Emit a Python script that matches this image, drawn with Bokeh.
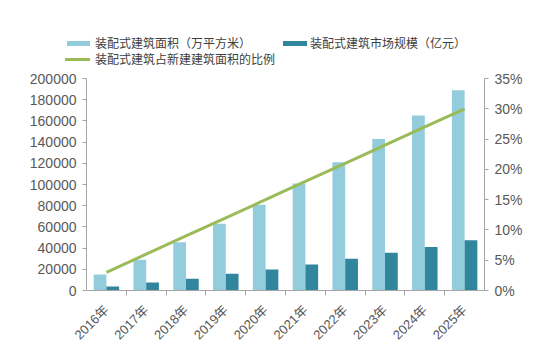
from math import pi
from bokeh.plotting import figure
from bokeh.layouts import column
from bokeh.models import (FactorRange, Range1d, LinearAxis, CategoricalAxis, Div,
                          ColumnDataSource, NumeralTickFormatter,
                          PrintfTickFormatter, FixedTicker)
from bokeh.transform import dodge
from bokeh.embed import file_html
from bokeh.resources import INLINE

years = ["2016年", "2017年", "2018年", "2019年", "2020年",
         "2021年", "2022年", "2023年", "2024年", "2025年"]
area = [15000, 29000, 45500, 63000, 81000, 101000, 121000, 143000, 165000, 189000]
market = [3800, 7500, 11000, 15800, 19800, 24500, 30000, 35500, 41000, 47500]
share = [3, 6, 9, 12, 15, 18, 21, 24, 27, 30]

name_area = "装配式建筑面积（万平方米）"
name_market = "装配式建筑市场规模（亿元）"
name_share = "装配式建筑占新建建筑面积的比例"

LIGHT = "#93CDDD"
DARK = "#31859C"
GREEN = "#9BBB59"
AXIS = "#A6A6A6"
TXT = "#595959"
FONT = "Liberation Sans, Noto Sans CJK SC"

W = 526
LEG_H = 70

src = ColumnDataSource(dict(year=years, area=area, market=market, share=share))

p = figure(x_range=FactorRange(*years, range_padding=0), y_range=Range1d(0, 200000),
           width=W, height=354 - LEG_H, output_backend="svg", toolbar_location=None,
           x_axis_location=None, y_axis_location=None,
           min_border_left=86, min_border_right=42, min_border_top=8, min_border_bottom=64)
p.outline_line_color = None
p.xgrid.grid_line_color = None
p.ygrid.grid_line_color = None
p.extra_y_ranges = {"pct": Range1d(0, 35)}
bounds = ["b%d" % i for i in range(len(years) + 1)]
p.extra_x_ranges = {"bnd": FactorRange(*bounds, range_padding=-0.5,
                                       range_padding_units="absolute")}

p.vbar(x=dodge("year", -0.16, range=p.x_range), top="area", width=0.32,
       source=src, color=LIGHT, line_color=None)
p.vbar(x=dodge("year", 0.16, range=p.x_range), top="market", width=0.32,
       source=src, color=DARK, line_color=None)
p.line(x="year", y="share", source=src, y_range_name="pct",
       line_color=GREEN, line_width=3)

def style_y(ax):
    ax.axis_line_color = AXIS
    ax.major_tick_line_color = AXIS
    ax.minor_tick_line_color = None
    ax.major_tick_in = 0
    ax.major_tick_out = 4
    ax.major_label_standoff = 6
    ax.major_label_text_font = FONT
    ax.major_label_text_font_size = "14px"
    ax.major_label_text_color = TXT

yl = LinearAxis(ticker=FixedTicker(ticks=list(range(0, 200001, 20000))),
                formatter=NumeralTickFormatter(format="0"))
style_y(yl)
p.add_layout(yl, "left")

yr = LinearAxis(y_range_name="pct", ticker=FixedTicker(ticks=list(range(0, 36, 5))),
                formatter=PrintfTickFormatter(format="%d%%"))
style_y(yr)
p.add_layout(yr, "right")

xt = CategoricalAxis(x_range_name="bnd")
xt.axis_line_color = AXIS
xt.major_tick_line_color = AXIS
xt.major_tick_in = 0
xt.major_tick_out = 5
xt.major_label_overrides = {b: " " for b in bounds}
xt.major_label_text_font_size = "1px"
xt.major_label_text_alpha = 0
xt.major_label_standoff = 0
p.add_layout(xt, "below")

xl = CategoricalAxis()
xl.axis_line_color = None
xl.major_tick_line_color = None
xl.major_tick_out = 0
xl.major_tick_in = 0
xl.major_label_orientation = pi / 4
xl.major_label_standoff = 12
xl.major_label_text_font = FONT
xl.major_label_text_font_size = "13px"
xl.major_label_text_color = TXT
p.add_layout(xl, "below")

# legend strip (HTML) above the chart
def swatch(left, top, w, h, color):
    return ('<div style="position:absolute;left:%dpx;top:%dpx;width:%dpx;height:%dpx;'
            'background:%s;"></div>' % (left, top, w, h, color))

def label(left, center, text):
    return ('<div style="position:absolute;left:%dpx;top:%dpx;height:16px;line-height:16px;'
            'font-family:\'Noto Sans CJK SC\';font-size:12px;color:#404040;white-space:nowrap;">'
            '%s</div>' % (left, center - 8, text))

html = ('<div style="position:relative;width:%dpx;height:%dpx;">' % (W, LEG_H)
        + swatch(67, 41, 23, 5, LIGHT) + label(95, 43, name_area)
        + swatch(283, 41, 24, 5, DARK) + label(310, 43, name_market)
        + swatch(65, 58, 25, 3, GREEN) + label(95, 59, name_share)
        + '</div>')
leg = Div(text=html, width=W, height=LEG_H, margin=0)

layout = column(leg, p, spacing=0)
open("out.html", "w").write(file_html(layout, INLINE))
